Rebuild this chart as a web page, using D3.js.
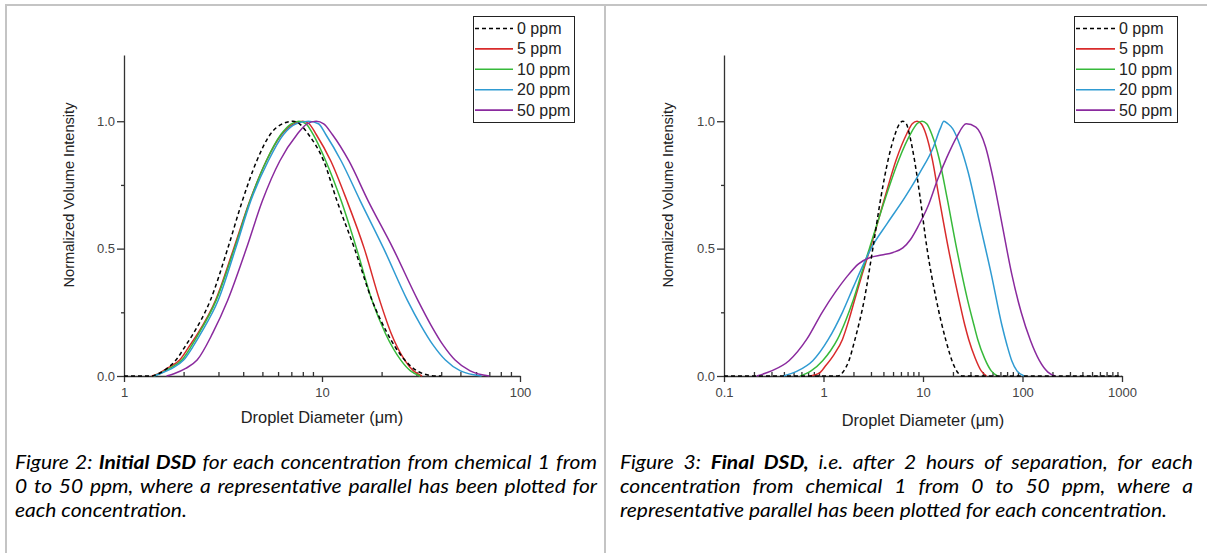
<!DOCTYPE html>
<html><head><meta charset="utf-8">
<script src="https://cdn.jsdelivr.net/npm/d3@7"></script>
<style>
html,body{margin:0;padding:0;background:#fff;}
#wrap{position:relative;width:1207px;height:553px;overflow:hidden;background:#fff;}
</style></head><body><div id="wrap"></div>
<script>
// ---------------- DATA ----------------
const seriesNames = ["0 ppm", "5 ppm", "10 ppm", "20 ppm", "50 ppm"];
const seriesColors = ["#000000", "#d92b2b", "#37b93a", "#2f9bd2", "#8a2a9e"];

// Initial DSD: [droplet diameter (µm), normalized volume intensity]
const initial_0ppm = [[1,0],[1.38,0],[1.5,0.01],[1.65,0.03],[1.83,0.0625],[2.05,0.12],[2.24,0.167],[2.73,0.297],[3.34,0.5],[3.96,0.6875],[4.68,0.844],[5.47,0.948],[6.4,0.992],[7.15,1.0],[7.7,0.99],[8.55,0.948],[10.2,0.844],[11.9,0.6875],[14.6,0.5],[17.9,0.297],[21.4,0.167],[23.6,0.11],[26.2,0.0625],[29.5,0.025],[32.7,0.008],[37.4,0],[40,0]];
const initial_5ppm = [[1.38,0],[1.5,0.01],[1.65,0.03],[1.91,0.0625],[2.15,0.12],[2.36,0.167],[2.9,0.297],[3.58,0.5],[4.32,0.6875],[5.23,0.844],[6.25,0.948],[7.2,0.99],[8.0,1.0],[8.6,0.99],[9.35,0.948],[11.08,0.844],[13.37,0.6875],[16.35,0.5],[19.56,0.297],[22.36,0.167],[26.16,0.0625],[29,0.02],[32,0]];
const initial_10ppm = [[1.4,0],[1.52,0.01],[1.7,0.03],[1.96,0.0625],[2.2,0.12],[2.39,0.167],[2.92,0.297],[3.61,0.5],[4.33,0.6875],[5.23,0.844],[6.2,0.948],[7.0,0.99],[7.65,1.0],[8.3,0.99],[9.02,0.948],[10.45,0.844],[12.5,0.6875],[14.95,0.5],[17.88,0.297],[20.91,0.167],[25.0,0.0625],[28,0.02],[31.3,0]];
const initial_20ppm = [[1.42,0],[1.53,0.01],[1.75,0.03],[2.0,0.0625],[2.25,0.12],[2.445,0.167],[2.99,0.297],[3.66,0.5],[4.37,0.6875],[5.35,0.844],[6.39,0.948],[7.4,0.99],[8.55,1.0],[9.6,0.99],[10.45,0.948],[12.5,0.844],[15.6,0.6875],[20.5,0.5],[27,0.297],[31.5,0.2],[36.5,0.12],[42,0.0625],[50,0.02],[64,0]];
const initial_50ppm = [[1.64,0],[1.8,0.01],[2.05,0.03],[2.34,0.0625],[2.8,0.167],[3.34,0.297],[4.15,0.5],[5.0,0.6875],[6.12,0.844],[7.48,0.948],[8.4,0.99],[9.35,1.0],[10.2,0.99],[11.28,0.948],[13.68,0.844],[17.1,0.6875],[22.87,0.5],[30.5,0.297],[35.5,0.2],[41,0.12],[47,0.0625],[56,0.02],[70,0]];

// Final DSD (after 2 h)
const final_0ppm = [[0.1,0],[1.4,0],[1.6,0.02],[1.8,0.06],[2.06,0.14],[2.57,0.3],[3.13,0.5],[3.77,0.7],[4.47,0.85],[5.25,0.95],[5.8,0.99],[6.27,1.0],[6.8,0.99],[7.29,0.95],[8.19,0.85],[9.36,0.7],[10.98,0.5],[13.6,0.3],[16.98,0.14],[20.5,0.04],[25,0],[1000,0]];
const final_5ppm = [[0.727,0],[0.9,0.01],[1.05,0.04],[1.28,0.085],[1.55,0.1435],[1.8,0.22],[2.06,0.3],[2.45,0.4],[2.94,0.5],[4.13,0.7],[5.39,0.85],[6.85,0.95],[7.8,0.99],[8.71,1.0],[9.6,0.99],[10.69,0.95],[12.4,0.85],[14.5,0.7],[18.0,0.5],[23.0,0.3],[26.3,0.2],[28.8,0.1435],[33.5,0.07],[38.5,0.02],[43.6,0]];
const final_10ppm = [[0.582,0],[0.75,0.02],[0.98,0.06],[1.18,0.1],[1.38,0.1435],[1.68,0.22],[2.0,0.3],[2.4,0.4],[2.89,0.5],[4.2,0.7],[5.73,0.85],[7.49,0.95],[8.7,0.99],[9.78,1.0],[10.9,0.99],[12.22,0.95],[14.6,0.85],[17.44,0.7],[21.79,0.5],[28,0.3],[32.5,0.2],[35.5,0.1435],[41.5,0.07],[48.5,0.02],[56,0]];
const final_20ppm = [[0.394,0],[0.55,0.02],[0.78,0.06],[1.117,0.1435],[1.55,0.25],[2.0,0.35],[2.6,0.45],[3.0,0.5],[4.39,0.6],[6.55,0.7],[9.36,0.8],[12.77,0.9],[14.86,0.97],[16.24,1.0],[17.8,0.99],[19.93,0.97],[23.82,0.9],[28.45,0.8],[37.15,0.6],[48.53,0.4],[62,0.2],[70,0.12],[78,0.06],[88,0.02],[104,0]];
const final_50ppm = [[0.213,0],[0.3,0.02],[0.45,0.06],[0.677,0.1435],[0.97,0.25],[1.32,0.33],[1.72,0.39],[2.25,0.44],[2.94,0.465],[3.84,0.475],[5.0,0.485],[6.27,0.503],[7.49,0.536],[8.95,0.588],[11.18,0.665],[13.96,0.769],[17.44,0.86],[21.79,0.938],[27.2,0.99],[33.99,0.977],[42.5,0.9],[51,0.77],[62,0.6],[78,0.4],[97,0.25],[120,0.14],[148,0.06],[180,0.015],[212,0]];

// Axes / ticks
const xTicksInitial = [1, 10, 100];
const xTicksFinal = [0.1, 1, 10, 100, 1000];
const yTicks = [0, 0.5, 1.0];
const yMinorTicks = [0.25, 0.75];
const yLabel = "Normalized Volume Intensity";
const xLabel = "Droplet Diameter (\u03BCm)";

// Captions (** marks bold)
const captionLeft = [
  "Figure 2: **Initial DSD** for each concentration from chemical 1 from",
  "0 to 50 ppm, where a representative parallel has been plotted for",
  "each concentration."
];
const captionRight = [
  "Figure 3: **Final DSD,** i.e. after 2 hours of separation, for each",
  "concentration from chemical 1 from 0 to 50 ppm, where a",
  "representative parallel has been plotted for each concentration."
];

// ---------------- DRAW ----------------
const W = 1207, H = 553;
const svg = d3.select("#wrap").append("svg").attr("width", W).attr("height", H);

// table borders
const border = "#c4c4c4";
svg.append("line").attr("x1", 5).attr("x2", W).attr("y1", 5).attr("y2", 5).attr("stroke", border).attr("stroke-width", 2);
svg.append("line").attr("x1", 6).attr("x2", 6).attr("y1", 4).attr("y2", H).attr("stroke", border).attr("stroke-width", 2);
svg.append("line").attr("x1", 605).attr("x2", 605).attr("y1", 4).attr("y2", H).attr("stroke", border).attr("stroke-width", 2);

const FONT = "'Liberation Sans', Arial, sans-serif";
const axisColor = "#333";

function drawPanel(cfg) {
  const g = svg.append("g");
  const x = d3.scaleLog().domain(cfg.xDomain).range(cfg.xRange);
  const y = d3.scaleLinear().domain([0, 1.26]).range([376, 55]);

  // minor x ticks (inward)
  const minor = [];
  const e0 = Math.round(Math.log10(cfg.xDomain[0])), e1 = Math.round(Math.log10(cfg.xDomain[1]));
  for (let e = e0; e < e1; e++) for (let k = 2; k <= 9; k++) minor.push(k * Math.pow(10, e));
  const gxm = g.append("g").attr("transform", `translate(0,${y(0)})`)
    .call(d3.axisBottom(x).tickValues(minor).tickSize(-4).tickFormat(""));
  gxm.select(".domain").remove();

  g.append("g").attr("transform", `translate(0,${y(0)})`)
    .call(d3.axisBottom(x).tickValues(cfg.xTicks).tickSize(6).tickSizeOuter(0).tickPadding(6).tickFormat(d3.format("~g")));

  const gym = g.append("g").attr("transform", `translate(${cfg.xRange[0]},0)`)
    .call(d3.axisLeft(y).tickValues(yMinorTicks).tickSize(3).tickFormat(""));
  gym.select(".domain").remove();
  g.append("g").attr("transform", `translate(${cfg.xRange[0]},0)`)
    .call(d3.axisLeft(y).tickValues(yTicks).tickSize(7).tickSizeOuter(0).tickPadding(2).tickFormat(d3.format(".1f")));

  g.selectAll(".domain, .tick line").attr("stroke", axisColor).attr("stroke-width", 1.3);
  g.selectAll(".tick text").attr("font-family", FONT).attr("font-size", 13).attr("fill", "#444");

  // axis titles
  g.append("text").attr("transform", `translate(${cfg.yLabelX},195) rotate(-90)`)
    .attr("text-anchor", "middle").attr("font-family", FONT).attr("font-size", 14.6).attr("fill", "#222").text(yLabel);
  g.append("text").attr("x", d3.mean(cfg.xRange)).attr("y", cfg.xLabelY)
    .attr("text-anchor", "middle").attr("font-family", FONT).attr("font-size", 16.4).attr("fill", "#222").text(xLabel);

  // curves
  const line = d3.line().x(d => x(d[0])).y(d => y(d[1])).curve(d3.curveMonotoneX);
  const order = [1, 2, 3, 4, 0];
  order.forEach(i => {
    g.append("path").datum(cfg.series[i]).attr("d", line)
      .attr("fill", "none").attr("stroke", seriesColors[i]).attr("stroke-width", 1.5)
      .attr("stroke-dasharray", i === 0 ? "4,3" : null);
  });

  // legend
  const L = cfg.legend;
  g.append("rect").attr("x", L.x).attr("y", L.y).attr("width", L.w).attr("height", L.h)
    .attr("fill", "#fff").attr("stroke", "#222").attr("stroke-width", 1);
  seriesNames.forEach((name, i) => {
    const yy = L.row0 + i * 20.4;
    g.append("line").attr("x1", L.lx1).attr("x2", L.lx2).attr("y1", yy).attr("y2", yy)
      .attr("stroke", seriesColors[i]).attr("stroke-width", 1.6)
      .attr("stroke-dasharray", i === 0 ? "4,3" : null);
    g.append("text").attr("x", L.tx).attr("y", yy + 5.5).attr("font-family", FONT)
      .attr("font-size", 16).attr("fill", "#222").text(name);
  });
}

drawPanel({
  xDomain: [1, 100], xRange: [124, 520], xTicks: xTicksInitial,
  yLabelX: 74, xLabelY: 423,
  series: [initial_0ppm, initial_5ppm, initial_10ppm, initial_20ppm, initial_50ppm],
  legend: {x: 473.5, y: 16.5, w: 101, h: 106, lx1: 475, lx2: 513, tx: 517, row0: 28.5}
});
drawPanel({
  xDomain: [0.1, 1000], xRange: [724, 1122], xTicks: xTicksFinal,
  yLabelX: 673, xLabelY: 426,
  series: [final_0ppm, final_5ppm, final_10ppm, final_20ppm, final_50ppm],
  legend: {x: 1074.5, y: 16.5, w: 103, h: 106, lx1: 1076, lx2: 1115, tx: 1119, row0: 28.5}
});

// captions with manual justification, slightly widened glyphs
const CAPFONT = "Lato, 'Open Sans', sans-serif";
const CAPSIZE = 19;
function parseWords(str) {
  let bold = false;
  return str.split(" ").map(tok => {
    let t = tok, b = bold;
    if (t.startsWith("**")) { t = t.slice(2); b = true; bold = true; }
    if (t.endsWith("**")) { t = t.slice(0, -2); bold = false; }
    return {t, b};
  });
}
const capRoot = svg.append("g").attr("font-family", CAPFONT).attr("font-size", CAPSIZE)
  .attr("font-style", "italic").attr("fill", "#000");
function textWidth(str, bold) {
  const t = capRoot.append("text").attr("font-weight", bold ? "bold" : "normal").text(str);
  const w = t.node().getComputedTextLength(); t.remove(); return w;
}
const spaceW = textWidth("a a") - textWidth("aa");
function naturalWidth(str) {
  const ws = parseWords(str);
  return d3.sum(ws, w => textWidth(w.t, w.b)) + spaceW * (ws.length - 1);
}
// horizontal stretch so the last line of the right caption spans as in the original
const SX = 547 / naturalWidth(captionRight[2]);
function drawCaption(lines, x0, width, baselines) {
  const g = capRoot.append("g").attr("transform", `translate(${x0},0) scale(${SX},1)`);
  const wLocal = width / SX;
  lines.forEach((str, li) => {
    const words = parseWords(str);
    const ws = words.map(w => textWidth(w.t, w.b));
    const sum = d3.sum(ws);
    const justify = li < lines.length - 1;
    const gap = justify ? (wLocal - sum) / (words.length - 1) : spaceW;
    let xx = 0;
    words.forEach((w, i) => {
      g.append("text").attr("x", xx).attr("y", baselines[li])
        .attr("font-weight", w.b ? "bold" : "normal").text(w.t);
      xx += ws[i] + gap;
    });
  });
}
drawCaption(captionLeft, 15, 582, [469, 493, 517]);
drawCaption(captionRight, 620, 573, [469, 493, 517]);
</script>
</body></html>
